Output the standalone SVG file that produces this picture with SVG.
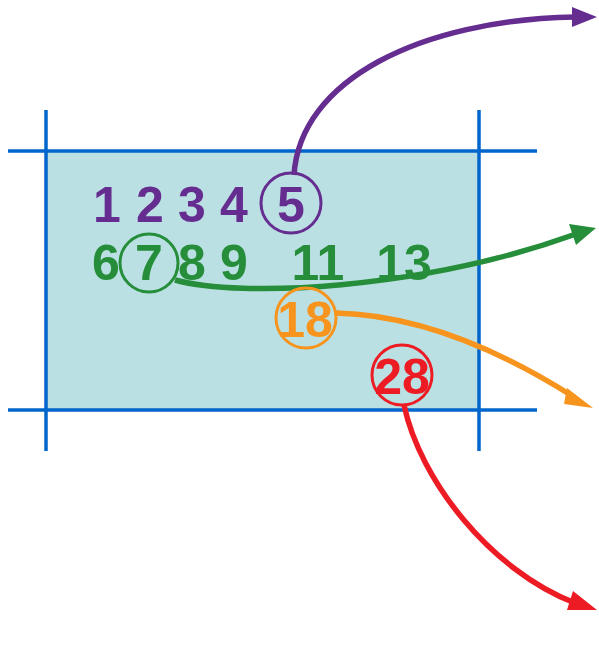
<svg xmlns="http://www.w3.org/2000/svg" width="599" height="663" viewBox="0 0 599 663">
<style>
.grid{stroke:#0066CC;stroke-width:3.5;fill:none}
.num{font-family:"Liberation Sans",Arial,sans-serif;font-weight:bold;font-size:50px;text-anchor:middle}
.p{fill:#662D91}.g{fill:#268E3A}.o{fill:#F7941D}.r{fill:#ED1C24}
.ring{fill:none;stroke-width:3}
.conn{fill:none;stroke-width:5.5}
</style>
<g id="frame">
<rect x="46" y="151" width="433" height="259" fill="#BBE0E3"/>
<line class="grid" x1="8" y1="151" x2="537" y2="151"/>
<line class="grid" x1="8" y1="410" x2="537" y2="410"/>
<line class="grid" x1="46" y1="110" x2="46" y2="451"/>
<line class="grid" x1="479" y1="110" x2="479" y2="451"/>
</g>
<g id="connectors">
<path class="conn" stroke="#662D91" d="M294 175 C300 80 420 20 575 17"/>
<polygon fill="#662D91" points="572,7 597,17 572,27"/>
<path class="conn" stroke="#268E3A" d="M175 280 C240 298 420 290 576 234"/>
<polygon fill="#268E3A" points="569,224 596,228 576,245"/>
<path class="conn" stroke="#F7941D" d="M336 313 C420 315 500 350 574 397"/>
<polygon fill="#F7941D" points="567,388 593,408 564,404"/>
<path class="conn" stroke="#ED1C24" d="M404 405 C420 480 490 570 575 603"/>
<polygon fill="#ED1C24" points="573,591 597,610 567,610"/>
</g>
<g id="n1"><text class="num p" x="107" y="222">1</text></g>
<g id="n2"><text class="num p" x="150" y="222">2</text></g>
<g id="n3"><text class="num p" x="192" y="222">3</text></g>
<g id="n4"><text class="num p" x="234" y="222">4</text></g>
<g id="n5"><circle class="ring" stroke="#662D91" cx="291" cy="203" r="30"/><text class="num p" x="291" y="222">5</text></g>
<g id="n6"><text class="num g" x="106" y="280">6</text></g>
<g id="n7"><circle class="ring" stroke="#268E3A" cx="149" cy="263" r="29"/><text class="num g" x="149" y="280">7</text></g>
<g id="n8"><text class="num g" x="192" y="280">8</text></g>
<g id="n9"><text class="num g" x="234" y="280">9</text></g>
<g id="n11"><text class="num g" x="318" y="280">11</text></g>
<g id="n13"><text class="num g" x="404" y="280">13</text></g>
<g id="n18"><circle class="ring" stroke="#F7941D" cx="306" cy="318" r="30"/><text class="num o" x="305" y="337">18</text></g>
<g id="n28"><circle class="ring" stroke="#ED1C24" cx="402" cy="375" r="30"/><text class="num r" x="402" y="394">28</text></g>
</svg>
